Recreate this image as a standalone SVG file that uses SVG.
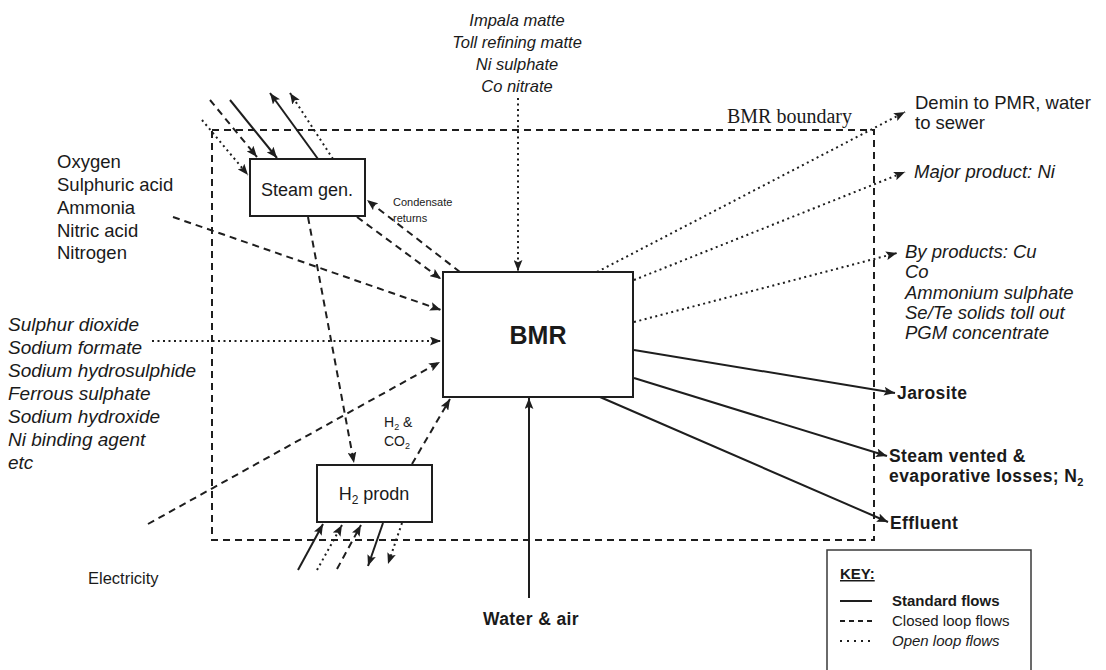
<svg xmlns="http://www.w3.org/2000/svg" width="1106" height="670" viewBox="0 0 1106 670">
  <style>
    .bg { fill: #ffffff; }
    .box { fill: #ffffff; stroke: #1e1e1e; stroke-width: 2; }
    .bound { fill: none; stroke: #1e1e1e; stroke-width: 2; stroke-dasharray: 7 5; }
    .ln { fill: none; stroke: #1e1e1e; stroke-width: 2; }
    .dash { stroke-dasharray: 7 5; }
    .dot { stroke-dasharray: 2 3.5; }
    .t { font-family: "Liberation Sans", Arial, sans-serif; fill: #1a1a1a; }
    .serif { font-family: "Liberation Serif", "Times New Roman", serif; fill: #1a1a1a; }
    .it { font-style: italic; }
    .b { font-weight: bold; letter-spacing: 0.4px; }
  </style>
  <defs>
    <marker id="arr" viewBox="0 0 10 8" refX="10" refY="4" markerWidth="11" markerHeight="9" markerUnits="userSpaceOnUse" orient="auto">
      <path d="M0,0 L10,4 L0,8 L2,4 z" fill="#1e1e1e"/>
    </marker>
  </defs>

  <rect class="bg" x="0" y="0" width="1106" height="670"/>

  <!-- system boundary -->
  <g id="boundary">
    <rect class="bound" x="212" y="130" width="662" height="410"/>
    <text class="serif" x="852" y="123" font-size="20" text-anchor="end">BMR boundary</text>
  </g>

  <!-- flows -->
  <g id="connectors">
    <!-- feeds from the top -->
    <line class="ln dot" x1="518" y1="98" x2="518" y2="271" marker-end="url(#arr)"/>
    <!-- steam generator utilities -->
    <line class="ln dot" x1="202" y1="120" x2="248" y2="175" marker-end="url(#arr)"/>
    <line class="ln dash" x1="210" y1="100" x2="257" y2="157" marker-end="url(#arr)"/>
    <line class="ln" x1="230" y1="100" x2="277" y2="158" marker-end="url(#arr)"/>
    <line class="ln" x1="318" y1="159" x2="270" y2="93" marker-end="url(#arr)"/>
    <line class="ln dot" x1="333" y1="159" x2="290" y2="93" marker-end="url(#arr)"/>
    <!-- steam and condensate -->
    <line class="ln dash" x1="460" y1="272" x2="367" y2="200" marker-end="url(#arr)"/>
    <line class="ln dash" x1="357" y1="217" x2="441" y2="279" marker-end="url(#arr)"/>
    <line class="ln dash" x1="308" y1="217" x2="354" y2="463" marker-end="url(#arr)"/>
    <!-- reagents -->
    <line class="ln dash" x1="173" y1="217" x2="441" y2="310" marker-end="url(#arr)"/>
    <line class="ln dot" x1="152" y1="341" x2="441" y2="341" marker-end="url(#arr)"/>
    <line class="ln dash" x1="148" y1="524" x2="440" y2="362" marker-end="url(#arr)"/>
    <!-- hydrogen -->
    <line class="ln dash" x1="412" y1="464" x2="450" y2="399" marker-end="url(#arr)"/>
    <line class="ln" x1="298" y1="570" x2="323" y2="524" marker-end="url(#arr)"/>
    <line class="ln dot" x1="317" y1="570" x2="342" y2="525" marker-end="url(#arr)"/>
    <line class="ln dash" x1="337" y1="569" x2="361" y2="525" marker-end="url(#arr)"/>
    <line class="ln" x1="383" y1="523" x2="368" y2="566" marker-end="url(#arr)"/>
    <line class="ln dot" x1="402" y1="523" x2="388" y2="564" marker-end="url(#arr)"/>
    <!-- water -->
    <line class="ln" x1="529" y1="598" x2="529" y2="398" marker-end="url(#arr)"/>
    <!-- products -->
    <line class="ln dot" x1="597" y1="272" x2="905" y2="112" marker-end="url(#arr)"/>
    <line class="ln dot" x1="634" y1="280" x2="905" y2="172" marker-end="url(#arr)"/>
    <line class="ln dot" x1="634" y1="322" x2="897" y2="253" marker-end="url(#arr)"/>
    <line class="ln" x1="634" y1="350" x2="895" y2="393" marker-end="url(#arr)"/>
    <line class="ln" x1="634" y1="378" x2="887" y2="456" marker-end="url(#arr)"/>
    <line class="ln" x1="600" y1="397" x2="888" y2="522" marker-end="url(#arr)"/>
  </g>

  <!-- process blocks -->
  <g id="steam-gen">
    <rect class="box" x="250" y="159" width="115" height="57"/>
    <text class="t" x="307" y="196" font-size="18" text-anchor="middle">Steam gen.</text>
  </g>
  <g id="bmr">
    <rect class="box" x="443" y="272" width="190" height="125"/>
    <text class="t" x="538" y="344" font-size="25" font-weight="bold" text-anchor="middle">BMR</text>
  </g>
  <g id="h2-prodn">
    <rect class="box" x="317" y="465" width="115" height="57"/>
    <text class="t" x="374" y="500" font-size="18" text-anchor="middle">H<tspan font-size="12" dy="4">2</tspan><tspan dy="-4"> prodn</tspan></text>
  </g>

  <!-- stream labels -->
  <g id="top-feeds" class="t it" font-size="16.5" text-anchor="middle">
    <text x="517" y="26">Impala matte</text>
    <text x="517" y="48">Toll refining matte</text>
    <text x="517" y="70">Ni sulphate</text>
    <text x="517" y="92">Co nitrate</text>
  </g>
  <g id="gas-feeds" class="t" font-size="18.5">
    <text x="57" y="168">Oxygen</text>
    <text x="57" y="191">Sulphuric acid</text>
    <text x="57" y="214">Ammonia</text>
    <text x="57" y="237">Nitric acid</text>
    <text x="57" y="259">Nitrogen</text>
  </g>
  <g id="reagents" class="t it" font-size="19">
    <text x="8" y="331">Sulphur dioxide</text>
    <text x="8" y="354">Sodium formate</text>
    <text x="8" y="377">Sodium hydrosulphide</text>
    <text x="8" y="400">Ferrous sulphate</text>
    <text x="8" y="423">Sodium hydroxide</text>
    <text x="8" y="446">Ni binding agent</text>
    <text x="8" y="469">etc</text>
  </g>
  <text id="electricity" class="t" x="88" y="584" font-size="16.5">Electricity</text>
  <g id="condensate" class="t" font-size="11">
    <text x="393" y="206">Condensate</text>
    <text x="393" y="222">returns</text>
  </g>
  <g id="h2-co2" class="t" font-size="14">
    <text x="384" y="427">H<tspan font-size="9" dy="3">2</tspan><tspan dy="-3"> &amp;</tspan></text>
    <text x="384" y="446">CO<tspan font-size="9" dy="3">2</tspan></text>
  </g>
  <text id="water-air" class="t b" x="531" y="625" font-size="17.5" text-anchor="middle">Water &amp; air</text>

  <g id="outputs" class="t" font-size="18.5">
    <text x="915" y="109">Demin to PMR, water</text>
    <text x="915" y="129">to sewer</text>
    <text class="it" x="914" y="178">Major product: Ni</text>
    <text class="it" x="905" y="258">By products:  Cu</text>
    <text class="it" x="905" y="278">Co</text>
    <text class="it" x="905" y="299">Ammonium sulphate</text>
    <text class="it" x="905" y="319">Se/Te solids toll out</text>
    <text class="it" x="905" y="339">PGM concentrate</text>
  </g>
  <g id="residues" class="t b" font-size="17.5">
    <text x="897" y="399">Jarosite</text>
    <text x="889" y="462">Steam vented &amp;</text>
    <text x="889" y="482">evaporative losses; N<tspan font-size="11" dy="4">2</tspan></text>
    <text x="890" y="529">Effluent</text>
  </g>

  <!-- legend -->
  <g id="key">
    <rect x="827" y="550" width="204" height="135" fill="#ffffff" stroke="#3a3a3a" stroke-width="1.5"/>
    <text class="t" x="840" y="579" font-size="15" font-weight="bold" text-decoration="underline">KEY:</text>
    <line class="ln" x1="840" y1="601" x2="872" y2="601" stroke-width="1.5"/>
    <line class="ln" x1="840" y1="621" x2="872" y2="621" stroke-width="1.5" stroke-dasharray="5 4"/>
    <line class="ln" x1="840" y1="641" x2="872" y2="641" stroke-width="2" stroke-dasharray="2 5"/>
    <text class="t" x="892" y="606" font-size="15" font-weight="bold">Standard flows</text>
    <text class="t" x="892" y="626" font-size="15">Closed loop flows</text>
    <text class="t it" x="892" y="646" font-size="15">Open loop flows</text>
  </g>
</svg>
